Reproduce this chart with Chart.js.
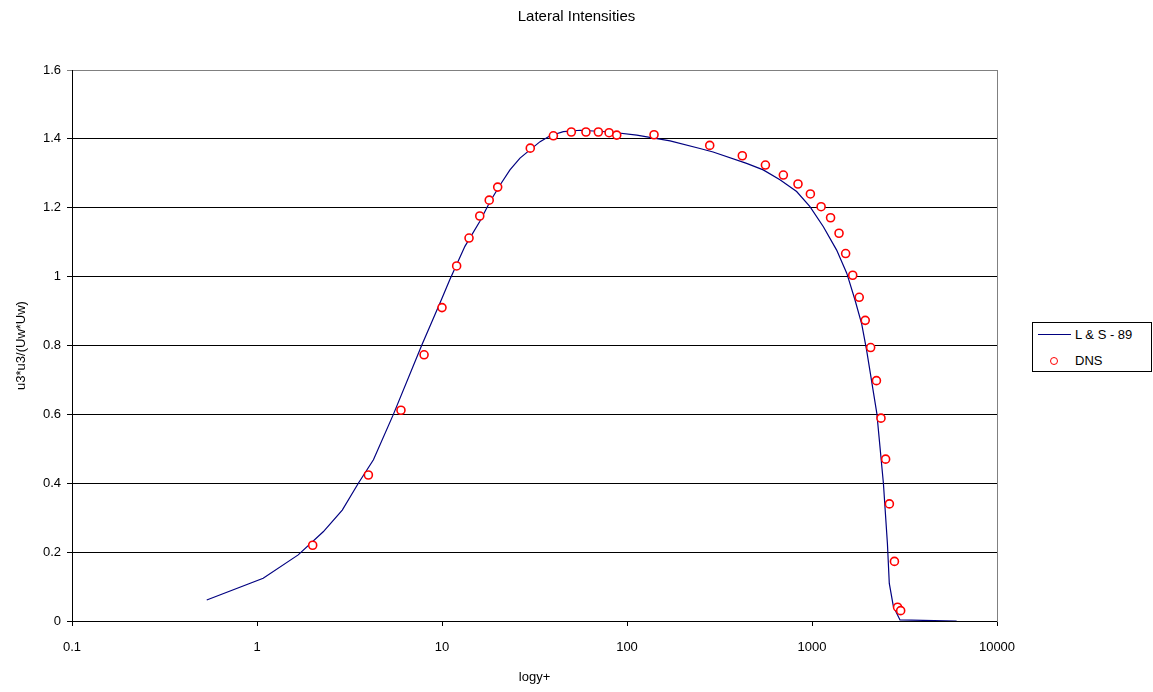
<!DOCTYPE html>
<html>
<head>
<meta charset="utf-8">
<title>Lateral Intensities</title>
<script src="https://cdn.jsdelivr.net/npm/chart.js@4.4.0/dist/chart.umd.min.js"></script>
<style>
  html, body { margin: 0; padding: 0; background: #fff; }
  #wrap { position: relative; width: 1153px; height: 692px; }
  #legend {
    position: absolute; left: 1032px; top: 322px; width: 118px; height: 48px;
    border: 1px solid #000; background: #fff;
    font: 13px "Liberation Sans", Arial, sans-serif; color: #000;
  }
  #legend .line { position: absolute; left: 5px; top: 11px; width: 33px; border-top: 1px solid #000080; }
  #legend .dot {
    position: absolute; left: 17px; top: 34px; width: 6px; height: 6px;
    border: 1.6px solid #ff0000; border-radius: 50%; background: #fff;
  }
  #legend .txt { position: absolute; left: 42px; line-height: 16px; }
</style>
</head>
<body>
<div id="wrap">
  <canvas id="chart" width="1153" height="692"></canvas>
  <div id="legend">
    <div class="line"></div><div class="txt" style="top:4px">L &amp; S - 89</div>
    <div class="dot"></div><div class="txt" style="top:30px">DNS</div>
  </div>
</div>
<script>
// axis ticks
var xTickValues = [0.1, 1, 10, 100, 1000, 10000];
var xTickLabels = ['0.1', '1', '10', '100', '1000', '10000'];
var yTickValues = [0, 0.2, 0.4, 0.6, 0.8, 1, 1.2, 1.4, 1.6];
var yTickLabels = ['0', '0.2', '0.4', '0.6', '0.8', '1', '1.2', '1.4', '1.6'];

// L & S - 89 (line)
var lsX = [0.535, 1.08, 1.67, 2.28, 2.89, 3.53, 4.26, 5.46, 7.76, 8.9, 10, 11, 13.3, 16, 18.2, 20.6, 23.3, 26.4,
  29.9, 33.9, 38.4, 45.3, 56, 81, 113, 171, 248, 292, 443, 545, 671, 826, 975, 1152, 1359, 1541, 1708, 1857,
  1972, 2241, 2432, 2556, 2617, 2754, 2990, 6050];
var lsY = [0.061, 0.124, 0.192, 0.259, 0.322, 0.40, 0.468, 0.60, 0.80, 0.874, 0.937, 0.99, 1.088, 1.16, 1.218,
  1.266, 1.31, 1.344, 1.368, 1.392, 1.409, 1.421, 1.425, 1.42, 1.411, 1.394, 1.372, 1.362, 1.329, 1.31, 1.281,
  1.247, 1.203, 1.145, 1.077, 1.01, 0.932, 0.862, 0.787, 0.603, 0.40, 0.226, 0.109, 0.042, 0.003, 0];

// DNS (circles)
var dnsX = [2, 4, 6, 8, 10, 12, 14, 16, 18, 20, 30, 40, 50, 60, 70, 80, 88, 140, 280, 420, 560, 700, 840, 980,
  1120, 1260, 1400, 1520, 1660, 1800, 1940, 2075, 2230, 2360, 2500, 2620, 2790, 2900, 3015];
var dnsY = [0.22, 0.424, 0.612, 0.773, 0.91, 1.031, 1.112, 1.176, 1.222, 1.26, 1.373, 1.409, 1.42, 1.42, 1.42,
  1.418, 1.411, 1.412, 1.381, 1.351, 1.324, 1.295, 1.269, 1.24, 1.203, 1.171, 1.126, 1.067, 1.004, 0.94,
  0.873, 0.794, 0.698, 0.589, 0.47, 0.34, 0.173, 0.04, 0.03];

Chart.defaults.font.family = '"Liberation Sans", Arial, sans-serif';
Chart.defaults.color = '#000';

var pairs = function (xs, ys) { return xs.map(function (x, i) { return { x: x, y: ys[i] }; }); };

var chart = new Chart(document.getElementById('chart'), {
  type: 'scatter',
  data: {
    datasets: [{
      label: 'L & S - 89',
      data: pairs(lsX, lsY),
      showLine: true,
      borderColor: '#000080',
      borderWidth: 1.2,
      pointRadius: 0,
      tension: 0,
      order: 2
    }, {
      label: 'DNS',
      data: pairs(dnsX, dnsY),
      showLine: false,
      pointStyle: 'circle',
      pointRadius: 4,
      borderColor: '#ff0000',
      backgroundColor: '#ffffff',
      borderWidth: 1.6,
      order: 1
    }]
  },
  options: {
    responsive: false,
    animation: false,
    layout: { padding: 0 },
    plugins: {
      legend: { display: false },
      tooltip: { enabled: false },
      title: {
        display: true,
        text: 'Lateral Intensities',
        color: '#000',
        font: { size: 15, weight: 'normal' },
        padding: { top: 8, bottom: 44 }
      }
    },
    scales: {
      x: {
        type: 'logarithmic',
        position: 'bottom',
        min: 0.1,
        max: 10000,
        afterBuildTicks: function (s) { s.ticks = xTickValues.map(function (v) { return { value: v }; }); },
        afterFit: function (s) { s.height = 71; },
        ticks: {
          color: '#000', font: { size: 13 }, padding: 14, autoSkip: false, maxRotation: 0,
          callback: function (v, i) { return xTickLabels[i]; }
        },
        grid: { drawOnChartArea: false, drawTicks: true, tickLength: 5, color: '#000' },
        border: { color: '#000', width: 1 },
        title: { display: true, text: 'logy+', color: '#000', font: { size: 13 }, padding: { top: 0, bottom: 7 } }
      },
      y: {
        min: 0,
        max: 1.6,
        afterBuildTicks: function (s) { s.ticks = yTickValues.map(function (v) { return { value: v }; }); },
        afterFit: function (s) { s.width = 72; },
        ticks: {
          color: '#000', font: { size: 13 }, padding: 6,
          callback: function (v, i) { return yTickLabels[i]; }
        },
        grid: {
          color: function (c) { return c.tick && c.tick.value === 1.6 ? '#808080' : '#000'; },
          lineWidth: 1,
          tickLength: 5
        },
        border: { color: '#000', width: 1 },
        title: {
          display: true, text: 'u3*u3/(Uw*Uw)', color: '#000', font: { size: 13 },
          padding: { top: 14, bottom: 0 }
        }
      },
      // empty right axis: reserves room for the legend and draws the grey right frame
      y2: {
        position: 'right',
        display: true,
        afterFit: function (s) { s.width = 156; },
        ticks: { display: false },
        grid: { display: false, drawOnChartArea: false },
        border: { display: true, color: '#808080', width: 1 }
      }
    }
  }
});
</script>
</body>
</html>
